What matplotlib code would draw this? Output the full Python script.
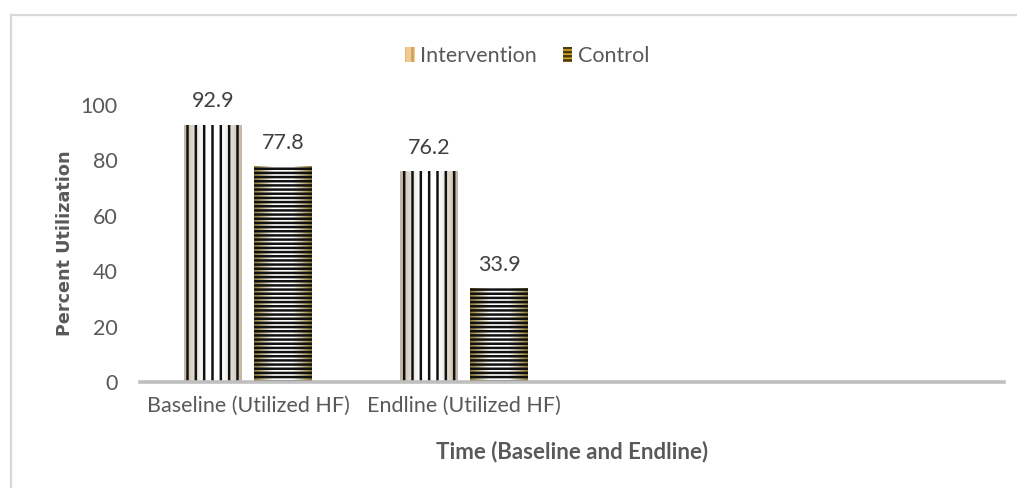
import numpy as np
import matplotlib
matplotlib.use("Agg")
import matplotlib.pyplot as plt
from matplotlib.patches import Patch
from matplotlib.colors import LinearSegmentedColormap

# Data
categories = ["Baseline (Utilized HF)", "Endline (Utilized HF)", "", ""]
intervention = [92.9, 76.2]
control = [77.8, 33.9]
series_names = ["Intervention", "Control"]

plt.rcParams["hatch.linewidth"] = 1.8
FONT = ["Lato", "DejaVu Sans"]
TEXT = "#595959"
FS = 15.5

fig = plt.figure(figsize=(10.17, 4.88), dpi=100)
fig.patch.set_facecolor("white")

# light frame (top and left edges)
fig.add_artist(plt.Line2D([10.5 / 1017, 1.0], [1 - 14.5 / 488] * 2, color="#d9d9d9", lw=1.6,
                          transform=fig.transFigure))
fig.add_artist(plt.Line2D([10.5 / 1017] * 2, [0.0, 1 - 14.5 / 488], color="#d9d9d9", lw=1.6,
                          transform=fig.transFigure))

ax = fig.add_axes([140 / 1017, 1 - 382 / 488, (1004 - 140) / 1017, (382 - 105) / 488])

x = np.arange(len(categories))
width = 0.264
offset = 0.162


def gradient_fill(bars, edge_color):
    cmap = LinearSegmentedColormap.from_list("g", [edge_color, "#ffffff", "#ffffff", edge_color])
    grad = np.linspace(0, 1, 64).reshape(1, -1)
    for b in bars:
        x0, y0 = b.get_x(), b.get_y()
        w, h = b.get_width(), b.get_height()
        im = ax.imshow(grad, cmap=cmap, aspect="auto", extent=(x0, x0 + w, y0, y0 + h),
                       zorder=1, interpolation="bicubic")
        im.set_clip_path(b)


xi = x[:len(intervention)] - offset
xc = x[:len(control)] + offset

b1 = ax.bar(xi, intervention, width, facecolor="none", edgecolor="none", zorder=1)
b2 = ax.bar(xc, control, width, facecolor="none", edgecolor="none", zorder=1)
gradient_fill(b1, "#c2b7a3")
gradient_fill(b2, "#8f7a2e")

# stripe patterns on top of the shaded fills
ax.bar(xi, intervention, width, facecolor="none", edgecolor="#111111", hatch="||", lw=0, zorder=2)
ax.bar(xc, control, width, facecolor="none", edgecolor="#111111", hatch="----", lw=0, zorder=2)

for xs, vals in ((xi, intervention), (xc, control)):
    for xv, v in zip(xs, vals):
        ax.annotate(f"{v:.1f}", (xv, v), xytext=(0, 9.5), textcoords="offset points",
                    ha="center", va="bottom", fontsize=FS, color="#404040", family=FONT,
                    annotation_clip=False)

ax.set_xlim(-0.5, len(categories) - 0.5)
ax.set_ylim(0, 100)
ax.set_yticks(range(0, 101, 20))
ax.set_xticks(x)
ax.set_xticklabels(categories)
ax.tick_params(axis="both", length=0, labelsize=FS, labelcolor=TEXT)
ax.tick_params(axis="y", pad=16)
ax.tick_params(axis="x", pad=10)
for lab in ax.get_xticklabels() + ax.get_yticklabels():
    lab.set_family(FONT)

for s in ("top", "right", "left"):
    ax.spines[s].set_visible(False)
ax.spines["bottom"].set_color("#bfbfbf")
ax.spines["bottom"].set_linewidth(2.6)

ax.set_ylabel("Percent Utilization", fontsize=12.7, fontweight="bold", color=TEXT,
              family=["DejaVu Sans"], labelpad=5)
ax.set_xlabel("Time (Baseline and Endline)", fontsize=16, fontweight="bold", color=TEXT,
              family=FONT, labelpad=18)

handles = [Patch(facecolor="#f2c98e", edgecolor="#c9a060", hatch="||", lw=0),
           Patch(facecolor="#d2a92c", edgecolor="#4a3a10", hatch="----", lw=0)]
leg = fig.legend(handles, series_names, loc="center", bbox_to_anchor=(527 / 1017, 1 - 56 / 488),
                 ncol=2, frameon=False, handlelength=0.45, handleheight=0.7,
                 handletextpad=0.25, columnspacing=1.2, prop={"family": FONT, "size": FS})
for t in leg.get_texts():
    t.set_color(TEXT)

fig.savefig("out.png", dpi=100, facecolor="white")
